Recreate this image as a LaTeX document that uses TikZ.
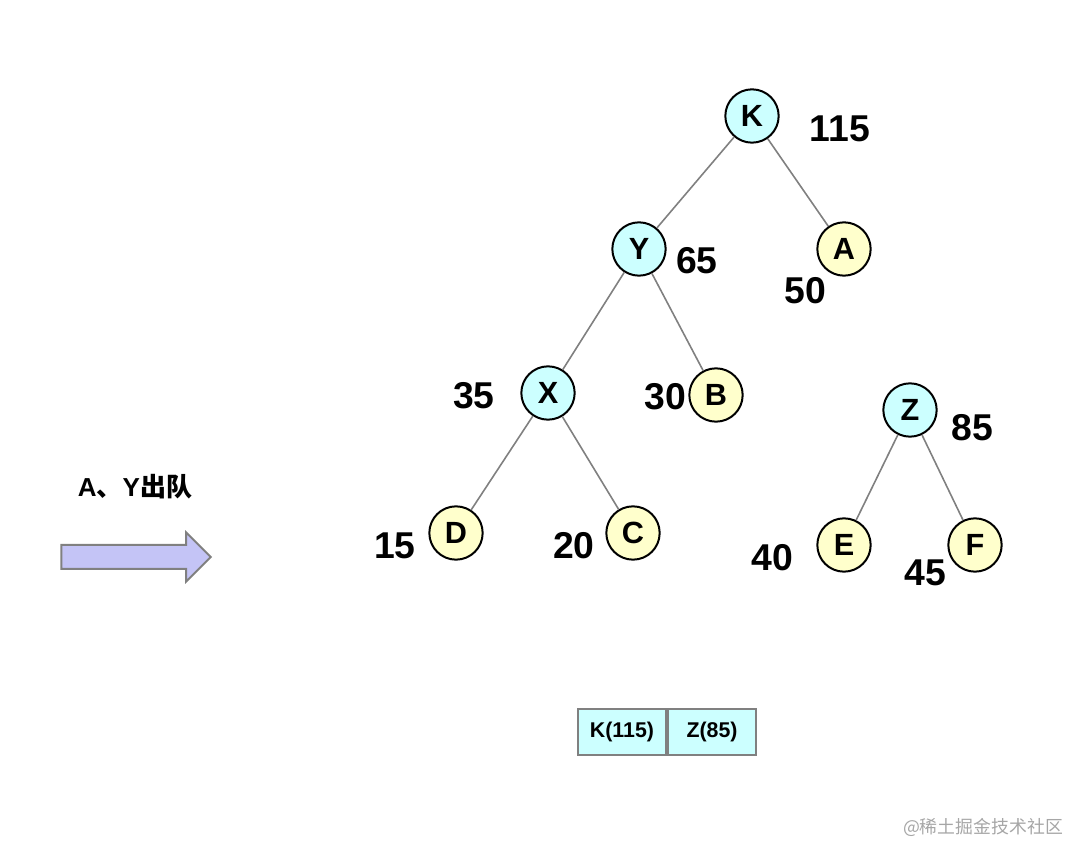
\documentclass[tikz,border=0pt]{standalone}
\usepackage{fontspec}
\setmainfont{Liberation Sans}
\newfontfamily\cjk{Noto Sans CJK SC}
\usetikzlibrary{shapes.arrows}
\definecolor{inner}{HTML}{CCFFFF}
\definecolor{leaf}{HTML}{FFFFCC}
\definecolor{arrowfill}{HTML}{C4C4F6}
\tikzset{
 treenode/.style={circle,draw,line width=1.5pt,minimum size=40pt,inner sep=0,font=\bfseries\fontsize{23}{23}\selectfont},
 innernode/.style={treenode,fill=inner},
 leafnode/.style={treenode,fill=leaf},
 weight/.style={font=\bfseries\fontsize{28}{28}\selectfont},
 edge/.style={draw=gray,line width=1.2pt},
 queuecell/.style={draw=gray,line width=1.5pt,fill=inner,minimum width=66pt,minimum height=34pt,inner sep=0,font=\bfseries\fontsize{16}{16}\selectfont}
}
\begin{document}
\begin{tikzpicture}[x=0.75pt,y=-0.75pt]
\path[use as bounding box] (0,0) rectangle (1086,862);
% tree
\node[innernode] (K) at (752,116) {K};
\node[innernode] (Y) at (639,249) {Y};
\node[leafnode] (A) at (844,249) {A};
\node[innernode] (X) at (548,393) {X};
\node[leafnode] (B) at (716,395) {B};
\node[leafnode] (D) at (456,533) {D};
\node[leafnode] (C) at (633,533) {C};
\node[innernode] (Z) at (910,410) {Z};
\node[leafnode] (E) at (844,545) {E};
\node[leafnode] (F) at (975,545) {F};
\draw[edge] (K) -- (Y);
\draw[edge] (K) -- (A);
\draw[edge] (Y) -- (X);
\draw[edge] (Y) -- (B);
\draw[edge] (X) -- (D);
\draw[edge] (X) -- (C);
\draw[edge] (Z) -- (E);
\draw[edge] (Z) -- (F);
% weights
\node[weight] (wK) at (840,129) {115};
\node[weight] (wY) at (697,261) {65};
\node[weight] (wA) at (805,291) {50};
\node[weight] (wX) at (474,396) {35};
\node[weight] (wB) at (665,397) {30};
\node[weight] (wD) at (395,546) {15};
\node[weight] (wC) at (574,546) {20};
\node[weight] (wZ) at (972,428) {85};
\node[weight] (wE) at (772,558) {40};
\node[weight] (wF) at (925,573) {45};
% step
\node[font=\bfseries\fontsize{19.5}{19.5}\selectfont] (step) at (135,487) {A\cjk 、\rmfamily Y\cjk\bfseries 出队};
\node[single arrow,draw=gray,line width=1.5pt,fill=arrowfill,minimum height=112pt,inner xsep=0,inner ysep=8.25pt,single arrow head extend=9.4pt] (go) at (130,557) {};
% queue
\node[queuecell] (q1) at (622,732) {K(115)};
\node[queuecell,anchor=west] (q2) at (q1.east) {Z(85)};
\node[font=\cjk\fontsize{13.4}{13.4}\selectfont,text=gray!70] (mark) at (983,827) {@稀土掘金技术社区};
\end{tikzpicture}
\end{document}
